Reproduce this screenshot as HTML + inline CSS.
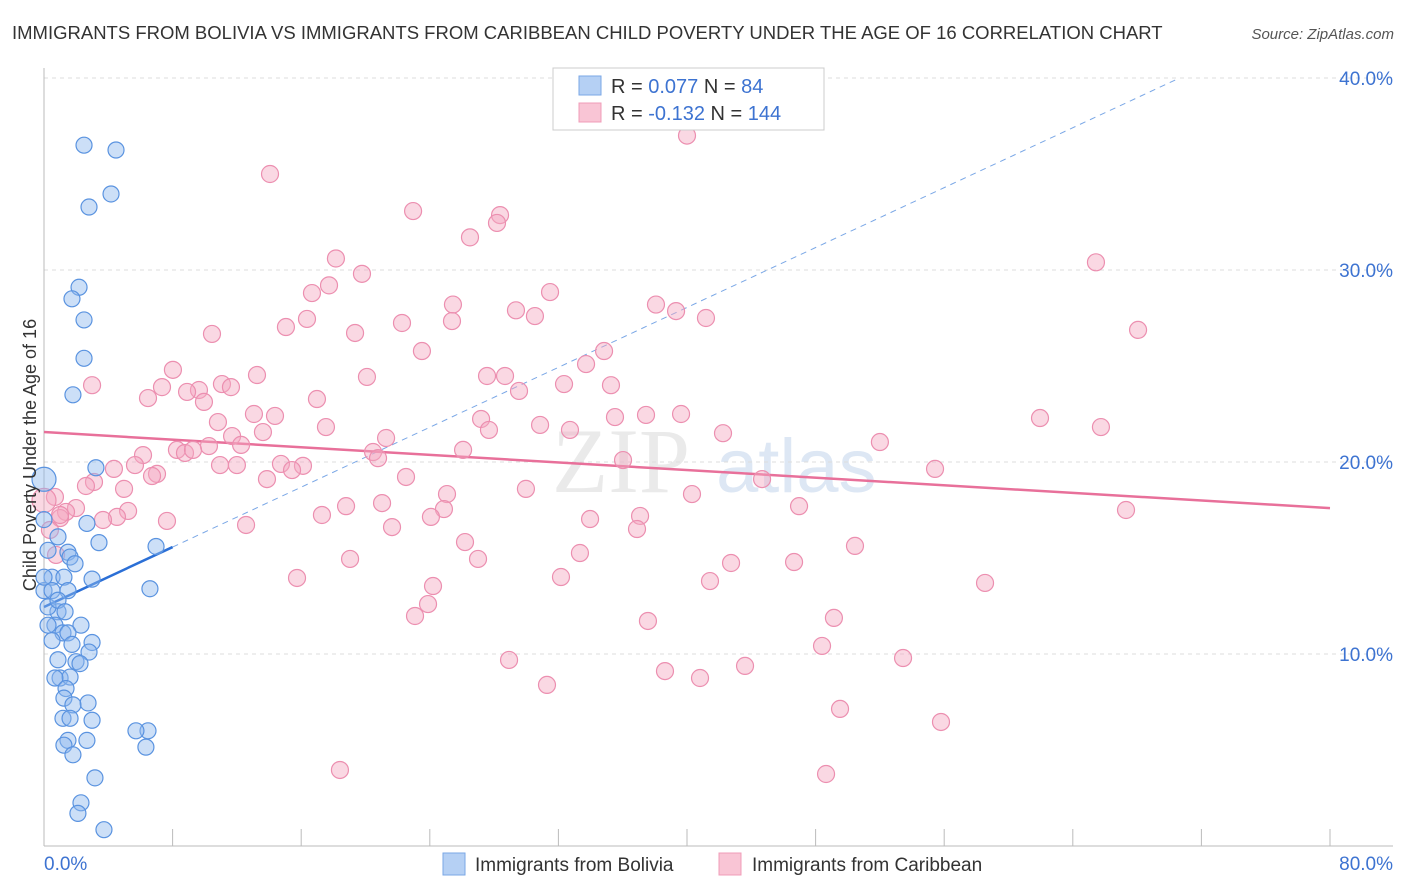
<!DOCTYPE html>
<html><head><meta charset="utf-8"><style>
body{margin:0;background:#fff;font-family:"Liberation Sans",sans-serif;}
svg{display:block}
</style></head><body>
<svg id="chart" width="1406" height="892" viewBox="0 0 1406 892">
<text x="12" y="39" font-size="18.5" fill="#333">IMMIGRANTS FROM BOLIVIA VS IMMIGRANTS FROM CARIBBEAN CHILD POVERTY UNDER THE AGE OF 16 CORRELATION CHART</text>
<text x="1394" y="39" font-size="15" fill="#555" font-style="italic" text-anchor="end">Source: ZipAtlas.com</text>
<g><text x="552" y="492" font-size="92" fill="#ddd" font-family="Liberation Serif,serif" opacity="0.6">ZIP</text><text x="716" y="492" font-size="76" fill="#c8d8ee" opacity="0.6">atlas</text></g>
<g id="grid"></g><g id="axes"></g><g id="trends"></g><g id="points"></g>
<g>
<rect x="553" y="68" width="271" height="62" fill="#fff" stroke="#ccc"/>
<rect x="579" y="76" width="22" height="19" fill="#b5d0f4" stroke="#7aa7e6"/>
<rect x="579" y="103" width="22" height="19" fill="#f9c5d5" stroke="#f09cb8"/>
<text x="611" y="93" font-size="20" fill="#333">R = <tspan fill="#3d73d1">0.077</tspan>   N =  <tspan fill="#3d73d1">84</tspan></text>
<text x="611" y="120" font-size="20" fill="#333">R = <tspan fill="#3d73d1">-0.132</tspan>   N = <tspan fill="#3d73d1">144</tspan></text>
</g>
<g>
<rect x="443" y="853" width="22" height="22" fill="#b5d0f4" stroke="#7aa7e6"/>
<text x="475" y="871" font-size="19" fill="#333">Immigrants from Bolivia</text>
<rect x="719" y="853" width="22" height="22" fill="#f9c5d5" stroke="#f09cb8"/>
<text x="752" y="871" font-size="19" fill="#333">Immigrants from Caribbean</text>
</g>
<text x="36" y="455" font-size="18" fill="#333" transform="rotate(-90 36 455)" text-anchor="middle">Child Poverty Under the Age of 16</text>
</svg>
<script>
const blueX=[2.49,4.48,4.17,2.80,2.18,1.74,2.49,2.49,1.80,3.23,6.97,6.59,2.67,3.42,0.87,0,1.49,1.62,1.93,0.25,0.5,1.24,2.99,0,0.5,1.49,0.87,2.30,0.68,1.18,1.49,2.99,1.74,2.80,0.87,1.99,2.24,1.0,1.62,0.68,1.37,2.74,1.24,1.80,2.99,1.18,1.62,6.47,5.72,2.67,1.49,1.24,6.34,1.80,3.17,2.30,2.11,3.73,0.25,0,0.87,0.5,0.25,1.31];
const blueY=[36.5,36.25,33.96,33.28,29.1,28.5,27.4,25.4,23.5,19.7,15.6,13.4,16.8,15.8,16.1,17.0,15.3,15.05,14.7,15.4,14.0,14.0,13.9,13.3,13.3,13.3,12.2,11.5,11.5,11.1,11.1,10.6,10.5,10.1,9.7,9.6,9.5,8.75,8.8,8.75,8.2,7.45,7.7,7.35,6.55,6.65,6.65,6.0,6.0,5.5,5.5,5.25,5.15,4.75,3.55,2.25,1.7,0.85,12.45,14.0,12.8,10.7,11.5,12.2];
const pinkX=[40.0,14.06,22.96,28.37,28.18,26.5,18.16,19.78,65.44,17.73,16.67,31.48,25.44,38.07,29.36,30.54,39.32,41.18,16.36,22.27,25.38,15.05,10.45,19.35,68.06,23.51,34.84,33.72,8.02,13.25,20.09,27.56,28.68,2.99,7.34,11.07,11.63,9.64,8.9,35.27,32.35,29.55,6.47,16.98,9.95,13.06,14.37,37.45,39.63,35.52,10.82,27.19,30.86,27.68,32.72,61.96,65.75,11.7,13.62,42.24,17.54,21.28,12.26,10.26,52.0,8.27,8.77,9.27,6.16,20.47,20.78,26.07,10.95,12.0,14.74,16.11,15.43,5.66,4.35,7.03,6.72,36.02,55.43,22.52,13.87,44.67,3.11,2.61,4.98,29.98,40.31,25.07,0.68,21.03,18.79,46.97,67.31,1.99,1.37,24.88,5.23,4.54,3.67,1.0,17.29,24.07,33.97,37.08,7.65,12.57,21.65,36.89,26.19,50.45,33.34,19.04,27.0,42.74,46.66,15.74,32.16,41.43,24.2,58.54,23.89,23.08,37.57,49.14,48.4,28.93,53.44,43.61,38.63,40.81,31.29,49.52,55.8,18.41,48.65,1.0,0.37,0.75];
const pinkY=[37.0,35.0,33.07,32.86,32.45,31.7,30.6,29.8,30.4,29.2,28.8,28.85,28.2,28.2,27.9,27.6,27.86,27.5,27.45,27.24,27.34,27.03,26.67,26.72,26.88,25.78,25.78,25.1,24.8,24.53,24.43,24.48,24.48,24.0,23.9,24.06,23.9,23.75,23.65,24.0,24.06,23.7,23.33,23.28,23.13,22.5,22.4,22.45,22.5,22.34,22.08,22.24,21.93,21.67,21.67,22.29,21.82,21.35,21.56,21.5,21.82,21.25,20.89,20.83,21.04,20.63,20.47,20.63,20.36,20.52,20.2,20.63,19.84,19.84,19.9,19.8,19.58,19.84,19.64,19.38,19.27,20.1,19.64,19.22,19.11,19.11,18.96,18.75,18.6,18.6,18.33,18.33,18.18,17.86,17.7,17.7,17.5,17.6,17.4,17.55,17.45,17.14,16.98,17.08,17.24,17.14,17.03,17.19,16.93,16.72,16.61,16.51,15.83,15.63,15.26,14.95,14.95,14.74,14.79,13.96,14.01,13.8,13.54,13.7,12.6,11.98,11.72,11.88,10.42,9.69,9.79,9.38,9.11,8.75,8.39,7.14,6.46,3.96,3.75,17.24,16.46,15.16];
const bigBlue=[0,19.1], bigPink=[0,18.0];
const blueTrend=[12.45,0.39], pinkTrend=[21.56,-0.0495];
const yTicks=[10,20,30,40];
const xTicks=[0,8,16,24,32,40,48,56,64,72,80];

const NS="http://www.w3.org/2000/svg";
const X=v=>44+v*16.075, Y=v=>846-v*19.2;
function mk(tag,attrs,parent){const e=document.createElementNS(NS,tag);for(const k in attrs)e.setAttribute(k,attrs[k]);document.getElementById(parent).appendChild(e);return e;}
yTicks.forEach(t=>{
 const l=mk('line',{x1:44,x2:1393,y1:Y(t),y2:Y(t),stroke:'#ddd','stroke-dasharray':'4 4'},'grid');
 
 
 const tx=mk('text',{x:1393,y:Y(t)+7,'font-size':19,fill:'#3d73d1','text-anchor':'end'},'grid');
 tx.textContent=t.toFixed(1)+'%';
 
 
});
const ax=mk('line',{x1:44,x2:44,y1:68,y2:846,stroke:'#bbb'},'axes');


const bx=mk('line',{x1:44,x2:1393,y1:846,y2:846,stroke:'#bbb'},'axes');


xTicks.forEach(t=>{
 const l=mk('line',{x1:X(t),x2:X(t),y1:829,y2:846,stroke:'#bbb'},'axes');
 
 
});
[[0,'start'],[80,'end']].forEach(([t,a])=>{
 const tx=mk('text',{x:t===0?44:1393,y:870,'font-size':19,fill:'#3d73d1','text-anchor':a},'axes');
 tx.textContent=t.toFixed(1)+'%';
 
 
});
// trends
const bEnd=(40-blueTrend[0])/blueTrend[1];
const bd=mk('line',{x1:X(8),y1:Y(blueTrend[0]+blueTrend[1]*8),x2:X(bEnd),y2:Y(40),stroke:'#7aa7e6','stroke-dasharray':'6 5','stroke-width':1},'trends');


const bs=mk('line',{x1:X(0),y1:Y(blueTrend[0]),x2:X(8),y2:Y(blueTrend[0]+blueTrend[1]*8),stroke:'#2b6fd6','stroke-width':2.5},'trends');


const ps=mk('line',{x1:X(0),y1:Y(pinkTrend[0]),x2:X(80),y2:Y(pinkTrend[0]+pinkTrend[1]*80),stroke:'#e8709a','stroke-width':2.5},'trends');


function dots(xs,ys,fill,stroke,name,r){xs.forEach((x,i)=>{
 const c=mk('circle',{cx:X(x),cy:Y(ys[i]),r:r,fill:fill,'fill-opacity':0.45,stroke:stroke,'stroke-width':1.2},'points');
 
 
});}
dots(pinkX,pinkY,'#f5a9c2','#ec8fb0','caribbean-point',8.5);
dots([bigPink[0]],[bigPink[1]],'#f5a9c2','#ec8fb0','caribbean-point',12);
dots(blueX,blueY,'#8db8ee','#5a93e0','bolivia-point',8);
dots([bigBlue[0]],[bigBlue[1]],'#8db8ee','#5a93e0','bolivia-point',12);
</script>
</body></html>
